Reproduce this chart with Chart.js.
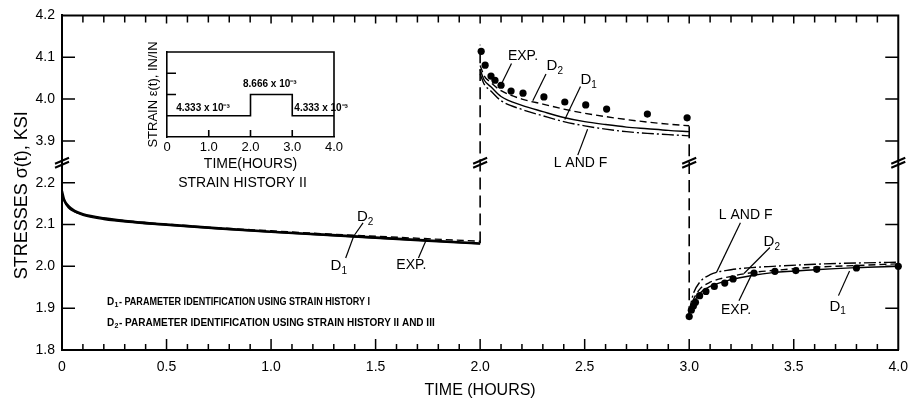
<!DOCTYPE html>
<html><head><meta charset="utf-8">
<script src="https://cdn.jsdelivr.net/npm/chart.js@4/dist/chart.umd.min.js"></script>
<style>
html,body{margin:0;padding:0;background:#fff;}
#wrap{position:relative;width:917px;height:406px;overflow:hidden;}
#main{position:absolute;left:0;top:0;}
#inset{position:absolute;left:130px;top:28px;}
</style>
</head><body>
<div id="wrap"><canvas id="main" width="917" height="406"></canvas><canvas id="inset" width="230" height="175"></canvas></div>
<script>
// ---------- data ----------
const seg1Time = [0, 0.01, 0.03, 0.06, 0.1, 0.2, 0.35, 0.5, 0.75, 1.0, 1.25, 1.5, 1.75, 2.0];
const seg1Exp  = [2.18, 2.16, 2.145, 2.133, 2.125, 2.115, 2.106, 2.1, 2.091, 2.083, 2.076, 2.069, 2.062, 2.055];
const seg1D1   = [2.17, 2.155, 2.14, 2.13, 2.122, 2.112, 2.104, 2.098, 2.089, 2.081, 2.074, 2.067, 2.06, 2.053];
const seg1D2   = [2.175, 2.158, 2.142, 2.131, 2.124, 2.115, 2.107, 2.101, 2.092, 2.085, 2.078, 2.072, 2.066, 2.06];

const seg2Time = [2.0, 2.02, 2.05, 2.1, 2.2, 2.3, 2.4, 2.5, 2.6, 2.7, 2.8, 2.9, 3.0];
const seg2D2   = [4.08, 4.055, 4.04, 4.02, 4.0, 3.988, 3.976, 3.966, 3.958, 3.951, 3.945, 3.94, 3.936];
const seg2D1   = [4.07, 4.045, 4.03, 4.006, 3.985, 3.97, 3.956, 3.946, 3.939, 3.933, 3.929, 3.925, 3.922];
const seg2LF   = [4.06, 4.035, 4.02, 3.996, 3.975, 3.96, 3.946, 3.936, 3.928, 3.922, 3.918, 3.915, 3.912];

const seg3Time = [3.0, 3.01, 3.02, 3.05, 3.1, 3.2, 3.3, 3.4, 3.6, 3.8, 4.0];
const seg3LF   = [1.89, 1.915, 1.935, 1.962, 1.98, 1.992, 1.997, 2.0, 2.005, 2.008, 2.01];
const seg3D2   = [1.89, 1.905, 1.92, 1.945, 1.962, 1.976, 1.985, 1.99, 1.998, 2.002, 2.006];
const seg3D1   = [1.885, 1.9, 1.912, 1.935, 1.952, 1.968, 1.978, 1.985, 1.992, 1.997, 2.0];

const jump2Time = [2.0, 2.0];
const jump2Stress = [2.055, 4.13];
const jump3Time = [3.0, 3.0];
const jump3Stress = [3.935, 1.875];

const expTime   = [2.005, 2.024, 2.052, 2.071, 2.1, 2.148, 2.205, 2.305, 2.405, 2.505, 2.605, 2.8, 2.99,
                   3.0, 3.01, 3.02, 3.03, 3.05, 3.08, 3.12, 3.17, 3.21, 3.31, 3.41, 3.51, 3.61, 3.8, 4.0];
const expStress = [4.114, 4.081, 4.055, 4.045, 4.033, 4.019, 4.014, 4.005, 3.993, 3.986, 3.976, 3.964, 3.955,
                   1.88, 1.895, 1.905, 1.914, 1.93, 1.94, 1.952, 1.96, 1.97, 1.984, 1.988, 1.99, 1.993, 1.996, 2.0];

const yTickLabels = ['1.8','1.9','2.0','2.1','2.2','3.9','4.0','4.1','4.2'];
const xTickLabels = ['0','0.5','1.0','1.5','2.0','2.5','3.0','3.5','4.0'];

const strainTime  = [0, 2, 2, 3, 3, 4];
const strainValue = [4.333, 4.333, 8.666, 8.666, 4.333, 4.333]; // x10^-3
const insetXLabels = ['0','1.0','2.0','3.0','4.0'];

// ---------- helpers ----------
const FONT = '"Liberation Sans", Arial, sans-serif';
// broken axis: upper panel (>=3.8) shifted down by 1.6
const ty = v => v > 3 ? v - 1.6 : v;
const pts = (xs, ys) => xs.map((x, i) => ({x: x, y: ty(ys[i])}));

function lineDs(xs, ys, dash, width) {
  return {data: pts(xs, ys), borderColor: '#000', borderWidth: width || 1.4, borderDash: dash || [],
          pointRadius: 0, tension: 0.25, cubicInterpolationMode: 'monotone', fill: false};
}

// annotation labels (data units: time, stress)
const notes = [
  {txt: 'EXP.', t: 2.205, s: 4.103, a: [2.15, 4.085], b: [2.1, 4.034]},
  {txt: 'D', sub: '2', t: 2.357, s: 4.079, a: [2.315, 4.06], b: [2.252, 3.996]},
  {txt: 'D', sub: '1', t: 2.519, s: 4.046, a: [2.48, 4.03], b: [2.405, 3.951]},
  {txt: 'L AND F', t: 2.48, s: 3.847, a: [2.514, 3.928], b: [2.467, 3.866]},
  {txt: 'L AND F', t: 3.27, s: 2.122, a: [3.245, 2.104], b: [3.13, 1.985]},
  {txt: 'D', sub: '2', t: 3.395, s: 2.058, a: [3.386, 2.045], b: [3.262, 1.983]},
  {txt: 'EXP.', t: 3.224, s: 1.895, a: [3.3, 1.982], b: [3.238, 1.918]},
  {txt: 'D', sub: '1', t: 3.71, s: 1.904, a: [3.767, 1.989], b: [3.714, 1.93]},
  {txt: 'D', sub: '2', t: 1.45, s: 2.118, a: [1.44, 2.104], b: [1.395, 2.072]},
  {txt: 'D', sub: '1', t: 1.324, s: 2.001, a: [1.357, 2.02], b: [1.395, 2.072]},
  {txt: 'EXP.', t: 1.671, s: 2.004, a: [1.705, 2.02], b: [1.743, 2.064]}
];

function drawBreak(ctx, x, y) {
  ctx.save();
  ctx.lineWidth = 2;
  ctx.strokeStyle = '#000';
  ctx.beginPath();
  ctx.moveTo(x - 7, y + 2); ctx.lineTo(x + 7, y - 4);
  ctx.moveTo(x - 7, y + 6); ctx.lineTo(x + 7, y);
  ctx.stroke();
  ctx.restore();
}

function drawLabel(ctx, n, X, Y) {
  ctx.save();
  ctx.fillStyle = '#000';
  ctx.textBaseline = 'middle';
  if (n.sub) {
    ctx.font = '15px ' + FONT;
    const w = ctx.measureText(n.txt).width;
    ctx.font = '10px ' + FONT;
    const ws = ctx.measureText(n.sub).width;
    const x0 = X - (w + ws) / 2;
    ctx.textAlign = 'left';
    ctx.font = '15px ' + FONT;
    ctx.fillText(n.txt, x0, Y);
    ctx.font = '10px ' + FONT;
    ctx.fillText(n.sub, x0 + w, Y + 5);
  } else {
    ctx.font = '14px ' + FONT;
    ctx.textAlign = 'center';
    ctx.fillText(n.txt, X, Y);
  }
  ctx.restore();
}

const decor = {
  id: 'decor',
  afterDraw(chart) {
    const {ctx, chartArea: ca, scales: {x, y}} = chart;
    ctx.save();
    ctx.strokeStyle = '#000';
    ctx.lineWidth = 2;
    // top + right frame
    ctx.beginPath();
    ctx.moveTo(ca.left, ca.top); ctx.lineTo(ca.right, ca.top); ctx.lineTo(ca.right, ca.bottom);
    ctx.stroke();
    // x ticks (inside)
    ctx.lineWidth = 1.5;
    ctx.beginPath();
    for (let i = 1; i < 40; i++) {
      const px = x.getPixelForValue(i / 10);
      const major = i % 5 === 0;
      ctx.moveTo(px, ca.bottom); ctx.lineTo(px, ca.bottom - (major ? 11 : 6));
      ctx.moveTo(px, ca.top); ctx.lineTo(px, ca.top + (major ? 8 : 7));
    }
    // y ticks (inside, both sides)
    for (let i = 1; i < 8; i++) {
      const v = 1.8 + i / 10;
      if (Math.abs(v - 2.25) < 0.01) continue;
      const py = y.getPixelForValue(v);
      ctx.moveTo(ca.left, py); ctx.lineTo(ca.left + 13, py);
      ctx.moveTo(ca.right, py); ctx.lineTo(ca.right - 13, py);
    }
    ctx.stroke();
    // axis breaks
    const by = y.getPixelForValue(2.25);
    drawBreak(ctx, ca.left, by);
    drawBreak(ctx, ca.right, by);
    drawBreak(ctx, x.getPixelForValue(2), by);
    drawBreak(ctx, x.getPixelForValue(3), by);
    // annotations
    ctx.lineWidth = 1.2;
    for (const n of notes) {
      ctx.beginPath();
      ctx.moveTo(x.getPixelForValue(n.a[0]), y.getPixelForValue(ty(n.a[1])));
      ctx.lineTo(x.getPixelForValue(n.b[0]), y.getPixelForValue(ty(n.b[1])));
      ctx.stroke();
      drawLabel(ctx, n, x.getPixelForValue(n.t), y.getPixelForValue(ty(n.s)));
    }
    // y-axis title
    ctx.fillStyle = '#000';
    ctx.save();
    ctx.translate(22, y.getPixelForValue(2.17));
    ctx.rotate(-Math.PI / 2);
    ctx.textAlign = 'center';
    ctx.textBaseline = 'middle';
    ctx.font = '18px ' + FONT;
    ctx.fillText('STRESSES σ(t), KSI', 0, 0);
    ctx.restore();
    // legend notes
    ctx.textAlign = 'left';
    ctx.textBaseline = 'middle';
    const lx = x.getPixelForValue(0.215);
    const l1 = y.getPixelForValue(1.915), l2 = y.getPixelForValue(1.865);
    ctx.font = 'bold 10px ' + FONT;
    ctx.fillText('D', lx, l1);
    ctx.fillText('D', lx, l2);
    ctx.font = 'bold 7px ' + FONT;
    ctx.fillText('1', lx + 7.5, l1 + 3);
    ctx.fillText('2', lx + 7.5, l2 + 3);
    ctx.font = 'bold 10px ' + FONT;
    ctx.fillText('- PARAMETER IDENTIFICATION USING STRAIN HISTORY I', lx + 12, l1, 251);
    ctx.fillText('- PARAMETER IDENTIFICATION USING STRAIN HISTORY II AND III', lx + 12, l2, 353);
    ctx.restore();
  }
};

const mainChart = new Chart(document.getElementById('main'), {
  type: 'line',
  data: {
    datasets: [
      lineDs(seg1Time, seg1Exp, [], 2.4),
      lineDs(seg1Time, seg1D1, [], 1.3),
      lineDs(seg1Time, seg1D2, [7, 4], 1.4),
      lineDs(jump2Time, jump2Stress, [12, 6], 1.6),
      lineDs(jump3Time, jump3Stress, [12, 6], 1.6),
      lineDs(seg2Time, seg2D2, [7, 4], 1.4),
      lineDs(seg2Time, seg2D1, [], 1.4),
      lineDs(seg2Time, seg2LF, [12, 3, 2, 3], 1.4),
      lineDs(seg3Time, seg3LF, [12, 3, 2, 3], 1.4),
      lineDs(seg3Time, seg3D2, [7, 4], 1.4),
      lineDs(seg3Time, seg3D1, [], 1.4),
      {data: pts(expTime, expStress), showLine: false, pointRadius: 3.6, pointBackgroundColor: '#000',
       pointBorderColor: '#000', pointBorderWidth: 0, clip: false}
    ]
  },
  options: {
    responsive: false, animation: false, events: [],
    layout: {padding: {top: 12, right: 15, left: 0, bottom: 0}},
    plugins: {legend: {display: false}, tooltip: {enabled: false}},
    scales: {
      x: {
        type: 'linear', min: 0, max: 4,
        ticks: {stepSize: 0.5, color: '#000', font: {size: 14, family: FONT}, padding: 9, maxRotation: 0,
                callback: (v) => xTickLabels[Math.round(v * 2)]},
        grid: {display: false, drawTicks: false, tickLength: 0},
        border: {display: true, color: '#000', width: 2},
        title: {display: true, text: 'TIME (HOURS)', color: '#000', font: {size: 16, family: FONT}, padding: {top: 0, bottom: 6}},
        afterFit: (s) => { s.height = 56; }
      },
      y: {
        type: 'linear', min: 1.8, max: 2.6,
        ticks: {stepSize: 0.1, color: '#000', font: {size: 14, family: FONT}, padding: 7,
                callback: (v) => yTickLabels[Math.round((v - 1.8) * 10)]},
        grid: {display: false, drawTicks: false, tickLength: 0},
        border: {display: true, color: '#000', width: 2},
        title: {display: false},
        afterFit: (s) => { s.width = 62; }
      }
    }
  },
  plugins: [decor]
});

// ---------- inset: strain history II ----------
const insetDecor = {
  id: 'insetDecor',
  afterDraw(chart) {
    const {ctx, chartArea: ca, scales: {x, y}} = chart;
    ctx.save();
    ctx.strokeStyle = '#000';
    ctx.lineWidth = 1.6;
    ctx.beginPath();
    ctx.moveTo(ca.left, ca.top); ctx.lineTo(ca.right, ca.top); ctx.lineTo(ca.right, ca.bottom);
    for (let i = 1; i <= 3; i++) {
      const px = x.getPixelForValue(i);
      ctx.moveTo(px, ca.bottom); ctx.lineTo(px, ca.bottom - 7);
    }
    for (const v of [8.666, 12.999]) {
      const py = y.getPixelForValue(v);
      ctx.moveTo(ca.left, py); ctx.lineTo(ca.left + 9, py);
    }
    ctx.stroke();
    ctx.fillStyle = '#000';
    ctx.textBaseline = 'middle';
    ctx.textAlign = 'center';
    ctx.font = '14px ' + FONT;
    ctx.fillText('TIME(HOURS)', (ca.left + ca.right) / 2, ca.bottom + 27);
    ctx.fillText('STRAIN HISTORY II', (ca.left + ca.right) / 2 - 8, ca.bottom + 46);
    // value labels
    ctx.font = 'bold 10px ' + FONT;
    ctx.textAlign = 'left';
    const lab = '4.333 x 10⁻³', lab2 = '8.666 x 10⁻³';
    ctx.fillText(lab, x.getPixelForValue(0.22), y.getPixelForValue(4.333) - 8, 60);
    ctx.fillText(lab2, x.getPixelForValue(1.82), y.getPixelForValue(8.666) - 10, 58);
    ctx.fillText(lab, x.getPixelForValue(3.05), y.getPixelForValue(4.333) - 8, 62);
    // y title rotated
    ctx.save();
    ctx.translate(ca.left - 14, (ca.top + ca.bottom) / 2);
    ctx.rotate(-Math.PI / 2);
    ctx.textAlign = 'center';
    ctx.font = '13px ' + FONT;
    ctx.fillText('STRAIN ε(t), IN/IN', 0, 0);
    ctx.restore();
    ctx.restore();
  }
};

new Chart(document.getElementById('inset'), {
  type: 'line',
  data: {datasets: [{data: strainTime.map((t, i) => ({x: t, y: strainValue[i]})), borderColor: '#000',
                     borderWidth: 1.6, pointRadius: 0, tension: 0, fill: false}]},
  options: {
    responsive: false, animation: false, events: [],
    layout: {padding: {top: 24, right: 26, left: 0, bottom: 0}},
    plugins: {legend: {display: false}, tooltip: {enabled: false}},
    scales: {
      x: {type: 'linear', min: 0, max: 4,
          ticks: {stepSize: 1, color: '#000', font: {size: 13, family: FONT}, padding: 3, maxRotation: 0,
                  callback: (v) => insetXLabels[Math.round(v)]},
          grid: {display: false, drawTicks: false, tickLength: 0}, border: {display: true, color: '#000', width: 1.6},
          afterFit: (s) => { s.height = 66; }},
      y: {type: 'linear', min: 0, max: 17.332, ticks: {display: false}, grid: {display: false, drawTicks: false, tickLength: 0},
          border: {display: true, color: '#000', width: 1.6},
          afterFit: (s) => { s.width = 37; }}
    }
  },
  plugins: [insetDecor]
});
</script>
</body></html>
